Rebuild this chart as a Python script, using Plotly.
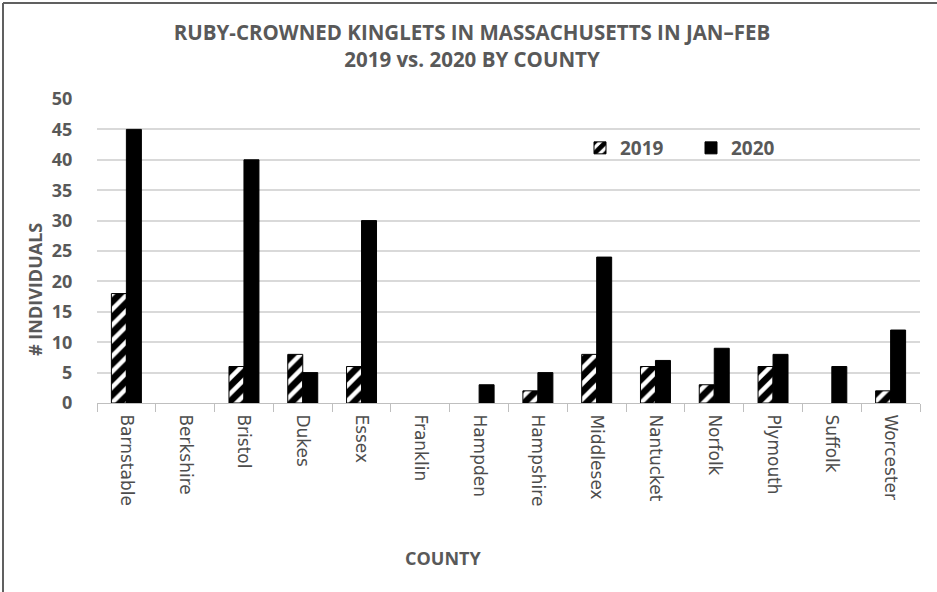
import plotly.graph_objects as go

counties = ["Barnstable", "Berkshire", "Bristol", "Dukes", "Essex", "Franklin", "Hampden",
            "Hampshire", "Middlesex", "Nantucket", "Norfolk", "Plymouth", "Suffolk", "Worcester"]
vals_2019 = [18, 0, 6, 8, 6, 0, 0, 2, 8, 6, 3, 6, 0, 2]
vals_2020 = [45, 0, 40, 5, 30, 0, 3, 5, 24, 7, 9, 8, 6, 12]
y_ticks = [0, 5, 10, 15, 20, 25, 30, 35, 40, 45, 50]

W, H = 937, 592
L, R, T, B = 97, 17, 99, 189
pw, ph = W - L - R, H - T - B

def px_x(x):
    return (x - L) / pw

def px_y(y):
    return (H - B - y) / ph

GRAY = "#595959"
FONT = "Open Sans"

def outline(vals):
    return [0 if v == 0 else 1 for v in vals]

fig = go.Figure()
fig.add_trace(go.Bar(
    x=counties, y=vals_2019, name="2019",
    marker=dict(color="white", line=dict(color="black", width=outline(vals_2019)),
                pattern=dict(shape="/", fgcolor="black", fgopacity=1, bgcolor="white",
                             size=11, solidity=0.6)),
))
fig.add_trace(go.Bar(
    x=counties, y=vals_2020, name="2020",
    marker=dict(color="black", line=dict(color="black", width=outline(vals_2020))),
))

fig.update_layout(
    width=W, height=H,
    margin=dict(l=L, r=R, t=T, b=B, autoexpand=False),
    paper_bgcolor="white", plot_bgcolor="white",
    barmode="group", bargap=0.49, bargroupgap=0,
    font=dict(family=FONT, color=GRAY),
    title=dict(
        text="<b>RUBY-CROWNED KINGLETS IN MASSACHUSETTS IN JAN–FEB<br>2019 vs. 2020 BY COUNTY</b>",
        x=472 / W, xanchor="center", xref="container",
        y=1 - 40 / H, yanchor="middle", yref="container",
        font=dict(family=FONT, size=20.5, color=GRAY),
    ),
    legend=dict(
        orientation="h", x=px_x(580), y=px_y(148), xanchor="left", yanchor="middle",
        font=dict(family=FONT, size=19, color=GRAY, weight="bold"),
        entrywidth=66, entrywidthmode="pixels", bgcolor="rgba(0,0,0,0)",
        itemwidth=30,
    ),
    showlegend=True,
)

fig.update_xaxes(
    type="category", tickangle=90, tickson="boundaries",
    ticks="outside", ticklen=8, tickcolor="#bfbfbf",
    showline=True, linecolor="#bfbfbf", linewidth=1,
    showgrid=False, ticklabelstandoff=7,
    tickfont=dict(family="DejaVu Sans", size=17, color="#4d4d4d"),
)
fig.update_yaxes(
    range=[0, 50], tickvals=y_ticks, showgrid=True, gridcolor="#d9d9d9", gridwidth=1.5,
    zeroline=False, showline=False,
    ticks="outside", ticklen=20, tickcolor="rgba(0,0,0,0)",
    tickfont=dict(family=FONT, size=18, color=GRAY, weight="bold"),
)

fig.add_annotation(text="<b># INDIVIDUALS</b>", textangle=-90, xref="paper", yref="paper",
                   x=px_x(35), y=px_y(290), xanchor="center", yanchor="middle", showarrow=False,
                   font=dict(family=FONT, size=18, color=GRAY))
fig.add_annotation(text="<b>COUNTY</b>", xref="paper", yref="paper",
                   x=px_x(443), y=px_y(558), xanchor="center", yanchor="middle", showarrow=False,
                   font=dict(family=FONT, size=18, color=GRAY))

# outer border (top and left edges)
fig.add_shape(type="line", xref="paper", yref="paper",
              x0=px_x(3), x1=px_x(W), y0=px_y(3), y1=px_y(3),
              line=dict(color="#606060", width=2))
fig.add_shape(type="line", xref="paper", yref="paper",
              x0=px_x(3), x1=px_x(3), y0=px_y(3), y1=px_y(H),
              line=dict(color="#606060", width=2))

fig.write_html("out.html", config={"displayModeBar": False},
               post_script="document.body.style.margin='0';")
